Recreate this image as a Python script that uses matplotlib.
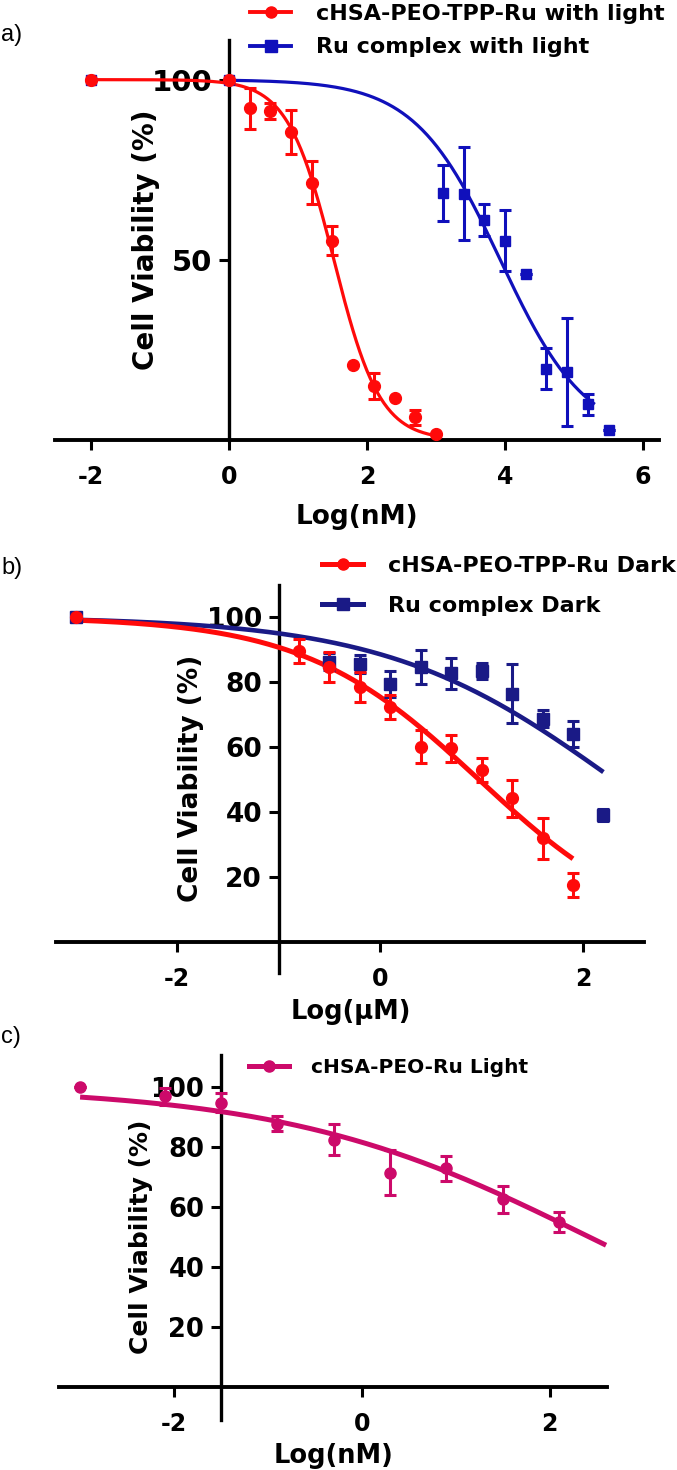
import numpy as np
import matplotlib
matplotlib.use("Agg")
import matplotlib.pyplot as plt
from matplotlib.lines import Line2D

# ---------------- data ----------------
# Panel a (Log(nM), with light)
a_red_x = [-2, 0, 0.3, 0.6, 0.9, 1.2, 1.5, 1.8, 2.1, 2.4, 2.7, 3.0]
a_red_y = [100, 100, 92.1, 91.4, 85.5, 71.4, 55.3, 20.9, 15.0, 11.7, 6.3, 1.7]
a_red_e = [0, 0, 5.7, 2.2, 6.0, 6.0, 4.0, 0, 3.5, 0, 2.0, 0]
a_blue_x = [-2, 0, 3.1, 3.4, 3.7, 4.0, 4.3, 4.6, 4.9, 5.2, 5.5]
a_blue_y = [100, 100, 68.6, 68.3, 61.0, 55.3, 46.1, 19.8, 18.9, 9.9, 2.8]
a_blue_e = [0, 0, 7.7, 12.9, 4.4, 8.4, 0, 5.6, 14.9, 3.0, 0]
a_red_fit = dict(top=100, bottom=0, logic50=1.52, hill=1.3, xmin=-2, xmax=3.0)
a_blue_fit = dict(top=100, bottom=0, logic50=3.93, hill=0.7, xmin=0, xmax=5.3)
a_labels = ["cHSA-PEO-TPP-Ru with light", "Ru complex with light"]

# Panel b (Log(uM), dark)
b_red_x = [-3, -0.8, -0.5, -0.2, 0.1, 0.4, 0.7, 1.0, 1.3, 1.6, 1.9]
b_red_y = [100, 89.5, 84.6, 78.5, 72.3, 60.0, 59.5, 52.8, 44.1, 31.8, 17.4]
b_red_e = [0, 3.6, 4.6, 4.6, 3.6, 5.1, 4.1, 3.6, 5.6, 6.2, 3.6]
b_blue_x = [-3, -0.5, -0.2, 0.1, 0.4, 0.7, 1.0, 1.3, 1.6, 1.9, 2.2]
b_blue_y = [100, 86.2, 85.4, 79.3, 84.6, 82.6, 83.4, 76.4, 68.7, 63.9, 39.0]
b_blue_e = [0, 2.6, 2.8, 4.0, 5.2, 4.8, 2.4, 9.0, 2.6, 4.0, 1.8]
b_red_fit = dict(top=100, bottom=0, logic50=0.97, hill=0.5, xmin=-3, xmax=1.9)
b_blue_fit = dict(top=100, bottom=0, logic50=2.3, hill=0.385, xmin=-3, xmax=2.2)
b_labels = ["cHSA-PEO-TPP-Ru Dark", "Ru complex Dark"]

# Panel c (Log(nM), light)
c_x = [-3, -2.1, -1.5, -0.9, -0.3, 0.3, 0.9, 1.5, 2.1]
c_y = [100, 96.7, 94.7, 87.6, 82.3, 71.4, 72.8, 62.5, 55.1]
c_e = [0, 2.8, 3.2, 2.5, 5.1, 7.4, 4.1, 4.5, 3.3]
c_fit = dict(top=100, bottom=0, logic50=2.42, hill=0.266, xmin=-3, xmax=2.6)
c_labels = ["cHSA-PEO-Ru Light"]

# ---------------- styling ----------------
W, H = 677, 1470
RED = "#ff0a0a"
BLUE_A = "#1010bb"
NAVY = "#1a1a86"
MAG = "#cc0a6a"
FONT = "DejaVu Sans"

fig = plt.figure(figsize=(W / 100, H / 100), dpi=100)


def fig_rect(left, right, top, bottom):
    return [left / W, 1 - bottom / H, (right - left) / W, (bottom - top) / H]


def sigmoid(fit):
    xs = np.linspace(fit["xmin"], fit["xmax"], 300)
    ys = fit["bottom"] + (fit["top"] - fit["bottom"]) / (1 + 10 ** ((xs - fit["logic50"]) * fit["hill"]))
    return xs, ys


def style_axes(ax, xlim, ylim, yspine_x, xticks, yticks, xt_size, yt_size, spine_ext=None):
    ax.set_xlim(*xlim)
    ax.set_ylim(*ylim)
    for s in ["top", "right"]:
        ax.spines[s].set_visible(False)
    ax.spines["left"].set_position(("data", yspine_x))
    ax.spines["left"].set_linewidth(2.4)
    ax.spines["bottom"].set_linewidth(2.8)
    if spine_ext is not None:
        ax.spines["left"].set_bounds(spine_ext, ylim[1])
    ax.set_xticks(xticks)
    ax.set_yticks(yticks)
    ax.tick_params(axis="x", direction="out", length=7, width=2.2, pad=11,
                   labelsize=xt_size)
    ax.tick_params(axis="y", direction="out", length=7, width=2.2, pad=5,
                   labelsize=yt_size)
    ax.set_xticklabels([("-" + str(abs(t))) if t < 0 else str(t) for t in xticks])
    for lab in ax.get_xticklabels() + ax.get_yticklabels():
        lab.set_fontweight("bold")
        lab.set_family(FONT)
    ax.patch.set_alpha(0)


def place_labels(ax, rect_px, xlabel, xl_pos, xl_size, yl_pos, yl_size):
    left, right, top, bottom = rect_px
    ax.set_xlabel(xlabel, fontsize=xl_size, fontweight="bold", family=FONT, va="center")
    ax.xaxis.set_label_coords((xl_pos[0] - left) / (right - left),
                              (bottom - xl_pos[1]) / (bottom - top))
    ax.set_ylabel("Cell Viability (%)", fontsize=yl_size, fontweight="bold", family=FONT,
                  va="center", ha="center")
    ax.yaxis.set_label_coords((yl_pos[0] - left) / (right - left),
                              (bottom - yl_pos[1]) / (bottom - top))


def series(ax, x, y, e, color, marker, ms, fit, lw):
    xs, ys = sigmoid(fit)
    ax.plot(xs, ys, color=color, lw=lw, solid_capstyle="butt", zorder=3, clip_on=False)
    ax.errorbar(x, y, yerr=e, fmt=marker, color=color, ms=ms, elinewidth=2.2,
                capsize=4, capthick=2.2, zorder=4, clip_on=False)


def legend(ax, colors, markers, ms, lw, labels, x_px, top_px, spacing, hlen, size):
    handles = [Line2D([], [], color=c, marker=m, ms=ms, lw=lw) for c, m in zip(colors, markers)]
    ax.legend(handles, labels, loc="upper left", bbox_to_anchor=(x_px / W, 1 - top_px / H),
              bbox_transform=fig.transFigure, frameon=False, borderpad=0, borderaxespad=0,
              handlelength=hlen, handletextpad=1.1, labelspacing=spacing,
              prop=dict(family=FONT, weight="bold", size=size))


# ---------------- panel a ----------------
ra = (55, 659, 40, 440)
axa = fig.add_axes(fig_rect(*ra))
series(axa, a_blue_x, a_blue_y, a_blue_e, BLUE_A, "s", 7.5, a_blue_fit, 2.3)
series(axa, a_red_x, a_red_y, a_red_e, RED, "o", 8.5, a_red_fit, 2.3)
style_axes(axa, (-2.52, 6.23), (0, 111), 0, [-2, 0, 2, 4, 6], [50, 100], 17, 21)
place_labels(axa, ra, "Log(nM)", (357, 517), 19, (146, 240), 20)
legend(axa, [RED, BLUE_A], ["o", "s"], 8, 2.8, a_labels, 250, 4, 0.6, 1.85, 16)

# ---------------- panel b ----------------
rb = (55.5, 644, 585, 941.7)
axb = fig.add_axes(fig_rect(*rb))
series(axb, b_blue_x, b_blue_y, b_blue_e, NAVY, "s", 8, b_blue_fit, 3.3)
series(axb, b_red_x, b_red_y, b_red_e, RED, "o", 8.5, b_red_fit, 3.6)
style_axes(axb, (-3.2, 2.6), (0, 109.8), -1, [-2, 0, 2], [20, 40, 60, 80, 100], 17, 19,
           spine_ext=-9.5)
place_labels(axb, rb, "Log(\u03bcM)", (351, 1012), 18.5, (191, 778), 19)
legend(axb, [RED, NAVY], ["o", "s"], 8, 3.6, b_labels, 322, 556, 0.9, 1.85, 16)

# ---------------- panel c ----------------
rc = (58.5, 607, 1055, 1387.3)
axc = fig.add_axes(fig_rect(*rc))
series(axc, c_x, c_y, c_e, MAG, "o", 8, c_fit, 3.6)
style_axes(axc, (-3.23, 2.61), (0, 110.5), -1.5, [-2, 0, 2], [20, 40, 60, 80, 100], 17, 18.5,
           spine_ext=-11)
place_labels(axc, rc, "Log(nM)", (334, 1456), 18.5, (141, 1237), 18)
legend(axc, [MAG], ["o"], 8, 3.6, c_labels, 249, 1058, 0.5, 2.0, 14.5)

# panel letters
for txt, ypx in [("a)", 35), ("b)", 568), ("c)", 1037)]:
    fig.text(1 / W, 1 - ypx / H, txt, fontsize=17, family="Liberation Sans",
             va="center", ha="left")

fig.savefig("out.png", dpi=100)
